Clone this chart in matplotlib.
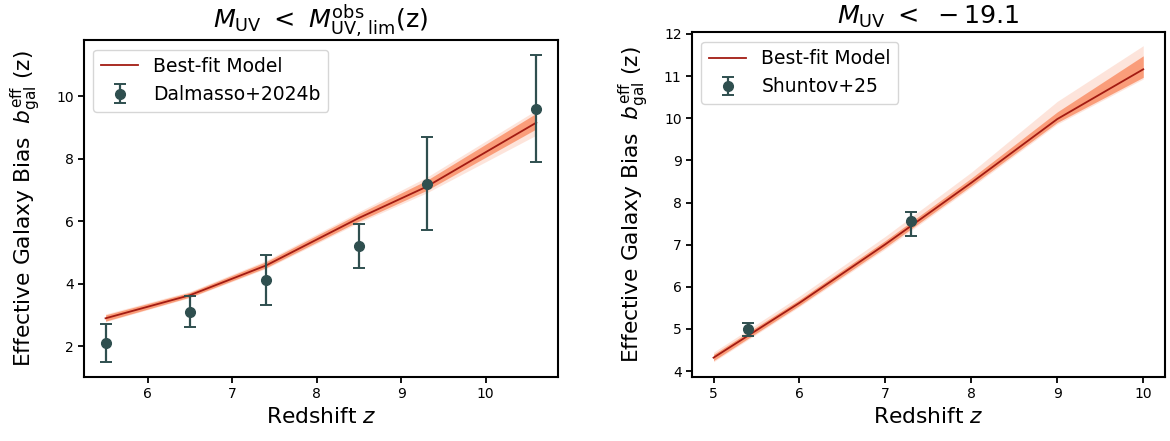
import matplotlib
matplotlib.use('Agg')
import matplotlib.pyplot as plt
import numpy as np

# left panel: Dalmasso+2024b
z_dal = [5.5, 6.5, 7.4, 8.5, 9.3, 10.6]
b_dal = [2.1, 3.1, 4.1, 5.2, 7.2, 9.6]
err_dal = [0.6, 0.5, 0.8, 0.7, 1.5, 1.7]
fit_dal = [2.89, 3.63, 4.58, 6.10, 7.10, 9.15]
core_lo_dal = [2.80, 3.57, 4.51, 6.00, 6.98, 8.95]
core_hi_dal = [3.00, 3.72, 4.70, 6.24, 7.30, 9.45]
out_lo_dal = [2.78, 3.55, 4.48, 5.95, 6.90, 8.75]
out_hi_dal = [3.03, 3.75, 4.74, 6.30, 7.40, 9.55]

# right panel: Shuntov+25
z_shu = [5.4, 7.3]
b_shu = [5.0, 7.57]
err_shu_lo = [0.16, 0.37]
err_shu_hi = [0.14, 0.21]
z_mod = [5, 6, 7, 8, 9, 10]
fit_shu = [4.32, 5.62, 7.01, 8.47, 9.98, 11.16]
core_lo_shu = [4.25, 5.56, 6.94, 8.40, 9.90, 10.97]
core_hi_shu = [4.40, 5.70, 7.10, 8.58, 10.15, 11.48]
out_lo_shu = [4.22, 5.53, 6.90, 8.36, 9.86, 10.93]
out_hi_shu = [4.45, 5.78, 7.20, 8.72, 10.40, 11.72]

fit_col = '#a31b12'
band_col = '#fa9670'
data_col = '#2f4f4f'
ylab = r'Effective Galaxy Bias  $b_{\rm gal}^{\rm eff}$ (z)'

fig = plt.figure(figsize=(11.7, 4.41), dpi=100)
ax1 = fig.add_axes([0.0718, 0.145, 0.405, 0.764])
ax2 = fig.add_axes([0.5915, 0.145, 0.404, 0.782])


def draw(ax, zm, fit, clo, chi, olo, ohi):
    ax.fill_between(zm, olo, ohi, color=band_col, alpha=0.25, lw=0)
    ax.fill_between(zm, clo, chi, color=band_col, alpha=0.9, lw=0)
    ax.plot(zm, fit, color=fit_col, lw=1.3, label='Best-fit Model')


draw(ax1, z_dal, fit_dal, core_lo_dal, core_hi_dal, out_lo_dal, out_hi_dal)
ax1.errorbar(z_dal, b_dal, yerr=err_dal, fmt='o', color=data_col, ms=7,
             elinewidth=1.6, capsize=4.5, capthick=1.4, label='Dalmasso+2024b')
ax1.set_title(r'$M_{\rm UV}\ <\ M^{\rm obs}_{\rm UV,\,lim}$(z)', fontsize=18.3)

draw(ax2, z_mod, fit_shu, core_lo_shu, core_hi_shu, out_lo_shu, out_hi_shu)
ax2.errorbar(z_shu, b_shu, yerr=[err_shu_lo, err_shu_hi], fmt='o', color=data_col,
             ms=7, elinewidth=1.6, capsize=4.5, capthick=1.4, label='Shuntov+25')
ax2.set_title(r'$M_{\rm UV}\ <\ -19.1$', fontsize=18.3)
ax2.set_ylim(3.86, 12.04)
ax2.set_yticks(range(4, 13))

for ax in (ax1, ax2):
    ax.set_xlabel(r'Redshift $z$', fontsize=15.7)
    ax.set_ylabel(ylab, fontsize=15.7, labelpad=9)
    ax.tick_params(labelsize=10, width=1.3, length=4)
    for s in ax.spines.values():
        s.set_linewidth(1.5)
    ax.legend(loc='upper left', fontsize=13.5)

plt.savefig('out.png', dpi=100)
